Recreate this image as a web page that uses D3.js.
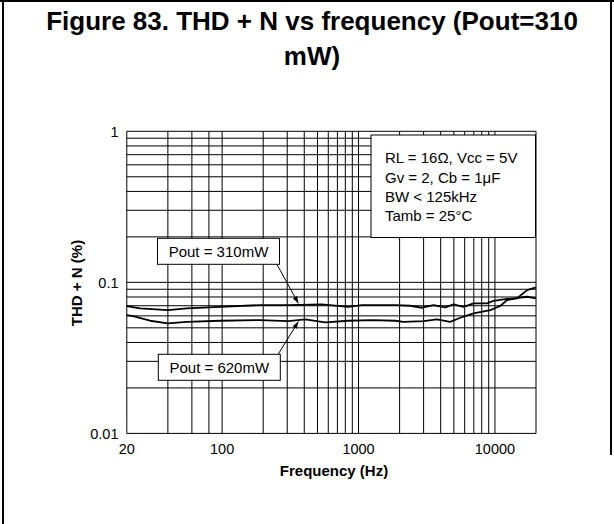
<!DOCTYPE html>
<html><head><meta charset="utf-8">
<script src="https://cdn.jsdelivr.net/npm/d3@7"></script>
<style>body{margin:0;background:#fff}svg{display:block}text{font-family:"Liberation Sans",Arial,sans-serif;fill:#000}</style>
</head><body><svg id="c" width="614" height="524"></svg>
<script>
// ---- data ----
const freq310 = [20,25,40,55,97,190,305,538,839,1058,1857,2392,2915,3546,4320,4970,5887,6970,8740,9770,11560,13700,17180,20000];
const thd310  = [0.0697,0.0673,0.0655,0.0673,0.0689,0.0707,0.0707,0.0715,0.0689,0.0707,0.0707,0.0700,0.0679,0.0707,0.0683,0.0715,0.0689,0.0726,0.0726,0.0755,0.0772,0.0783,0.0803,0.0783];
const freq620 = [20,22.2,29.6,40,55,97,190,306,406,569,843,1253,1857,2136,2996,3755,4701,5568,6970,9240,10940,12250,14510,17180,20000];
const thd620  = [0.0607,0.0598,0.0557,0.0535,0.0548,0.0557,0.0563,0.0554,0.0569,0.0543,0.0557,0.0563,0.0557,0.0548,0.0554,0.0569,0.0548,0.0583,0.0623,0.0655,0.0697,0.0763,0.0783,0.0889,0.0927];
const xTickLabels = [20,100,1000,10000];
const yTickLabels = [0.01,0.1,1];
const xGridValues = [20,40,60,80,100,200,300,400,500,600,700,800,900,1000,2000,3000,4000,5000,6000,7000,8000,9000,10000,20000];
const yGridValues = [0.01,0.02,0.03,0.04,0.05,0.06,0.07,0.08,0.09,0.1,0.2,0.3,0.4,0.5,0.6,0.7,0.8,0.9,1];
const titleLines = ["Figure 83. THD + N vs frequency (Pout=310","mW)"];
const conditionLines = ["RL = 16\u03A9, Vcc = 5V","Gv = 2, Cb = 1\u03BCF","BW < 125kHz","Tamb = 25\u00B0C"];
const seriesLabels = ["Pout = 310mW","Pout = 620mW"];
const arrowFreq = 362;

// ---- layout ----
const svg = d3.select("#c");
const L = 126.8, R = 536, T = 131.3, B = 433.4;
const x = d3.scaleLog().domain([20,20000]).range([L,R]);
const y = d3.scaleLog().domain([0.01,1]).range([B,T]);

// frame
svg.append("line").attr("x1",0).attr("x2",614).attr("y1",1).attr("y2",1).attr("stroke","#000").attr("stroke-width",2);
svg.append("line").attr("x1",3).attr("x2",3).attr("y1",0).attr("y2",524).attr("stroke","#000").attr("stroke-width",2);
svg.append("line").attr("x1",611).attr("x2",611).attr("y1",0).attr("y2",455).attr("stroke","#000").attr("stroke-width",2);

// title
svg.selectAll("text.title").data(titleLines).join("text")
  .attr("class","title").attr("x",312).attr("y",(d,i)=>30+i*35)
  .attr("text-anchor","middle").attr("font-size",26).attr("font-weight","bold").text(d=>d);

// grid
const g = svg.append("g");
g.selectAll("line.vx").data(xGridValues).join("line")
  .attr("x1",d=>x(d)).attr("x2",d=>x(d)).attr("y1",T).attr("y2",B)
  .attr("stroke","#000").attr("stroke-width",1);
g.selectAll("line.hy").data(yGridValues).join("line")
  .attr("x1",L).attr("x2",R).attr("y1",d=>y(d)).attr("y2",d=>y(d))
  .attr("stroke","#000").attr("stroke-width",1);

// axis tick labels
svg.selectAll("text.xt").data(xTickLabels).join("text").attr("class","xt")
  .attr("x",d=>x(d)).attr("y",453.5).attr("text-anchor","middle").attr("font-size",14.5).text(d=>d);
svg.selectAll("text.yt").data(yTickLabels).join("text").attr("class","yt")
  .attr("x",118.5).attr("y",d=>y(d)).attr("dy","0.36em").attr("text-anchor","end").attr("font-size",14.5).text(d=>d);

// axis titles
svg.append("text").attr("x",334).attr("y",476).attr("text-anchor","middle")
  .attr("font-size",15).attr("font-weight","bold").text("Frequency (Hz)");
svg.append("text").attr("transform","translate(82,283) rotate(-90)").attr("text-anchor","middle")
  .attr("font-size",15).attr("font-weight","bold").text("THD + N (%)");

// curves
const line = d3.line().x(d=>x(d[0])).y(d=>y(d[1]));
const s310 = freq310.map((f,i)=>[f,thd310[i]]);
const s620 = freq620.map((f,i)=>[f,thd620[i]]);
[s310,s620].forEach(s=>{
  svg.append("path").datum(s).attr("d",line).attr("fill","none").attr("stroke","#000").attr("stroke-width",1.8).attr("stroke-linejoin","round");
});

// conditions box
const cb = svg.append("g");
cb.append("rect").attr("x",371).attr("y",135).attr("width",164.5).attr("height",102.5)
  .attr("fill","#fff").attr("stroke","#000").attr("stroke-width",1);
cb.selectAll("text").data(conditionLines).join("text")
  .attr("x",385).attr("y",(d,i)=>163.3+i*19.3).attr("font-size",15).text(d=>d);

// series labels with arrows
svg.append("defs").append("marker").attr("id","ah").attr("viewBox","0 0 10 10")
  .attr("refX",10).attr("refY",5).attr("markerWidth",7).attr("markerHeight",7).attr("orient","auto")
  .attr("markerUnits","userSpaceOnUse")
  .append("path").attr("d","M0,1.5L10,5L0,8.5Z").attr("fill","#000");

const interp = (fs,vs,f)=>{ // value of a series at frequency f (log interpolation between read points)
  for(let i=1;i<fs.length;i++) if(fs[i]>=f){const t=(Math.log(f)-Math.log(fs[i-1]))/(Math.log(fs[i])-Math.log(fs[i-1]));return Math.exp(Math.log(vs[i-1])+t*(Math.log(vs[i])-Math.log(vs[i-1])));}
  return vs[vs.length-1];
};
const labelBoxes = [
  {text:seriesLabels[0], bx:157.5, by:238.3, bw:122, bh:26, ax:277, ay:264.5, tip:interp(freq310,thd310,arrowFreq), dy:-1.5},
  {text:seriesLabels[1], bx:158.3, by:354.3, bw:122, bh:26, ax:278, ay:354.5, tip:interp(freq620,thd620,arrowFreq), dy:1.5}
];
labelBoxes.forEach(b=>{
  svg.append("line").attr("x1",b.ax).attr("y1",b.ay).attr("x2",x(arrowFreq)).attr("y2",y(b.tip)+b.dy)
    .attr("stroke","#000").attr("stroke-width",1).attr("marker-end","url(#ah)");
  svg.append("rect").attr("x",b.bx).attr("y",b.by).attr("width",b.bw).attr("height",b.bh)
    .attr("fill","#fff").attr("stroke","#000").attr("stroke-width",1);
  svg.append("text").attr("x",b.bx+b.bw/2).attr("y",b.by+18.5).attr("text-anchor","middle").attr("font-size",15).text(b.text);
});
</script></body></html>
